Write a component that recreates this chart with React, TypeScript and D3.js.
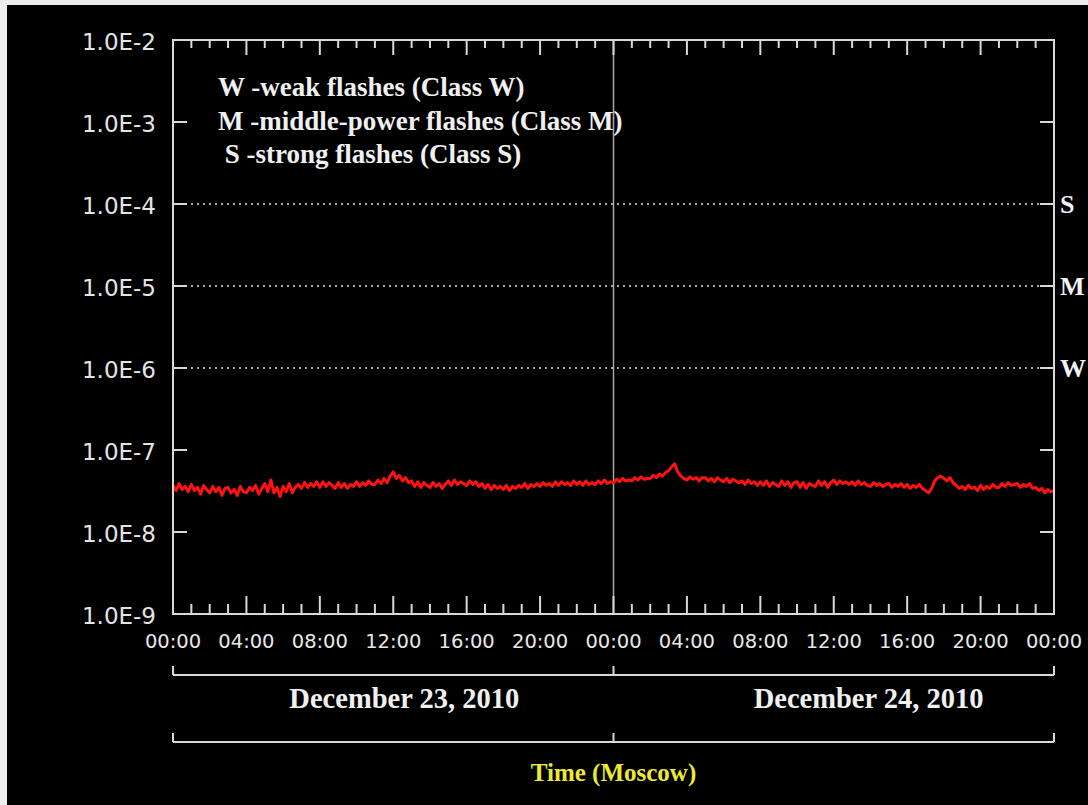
import * as d3 from "d3"

// X-ray flux, units of 1e-8 W/m^2, one value every 10 minutes, Dec 23 00:00 -> Dec 25 00:00
const FLUX_UNIT = 1e-8
const STEP_HOURS = 1 / 6
const fluxValues = [
  3.7, 3.2, 3.9, 3.3, 3.6, 3.1, 3.8, 3.2, 3.5, 2.9, 3.7, 3.3,
  3.0, 3.6, 3.1, 3.5, 2.8, 3.4, 3.5, 3.0, 3.3, 2.8, 3.6, 3.1,
  3.0, 3.5, 3.2, 3.7, 2.9, 3.4, 3.9, 3.1, 4.3, 3.0, 3.5, 2.7,
  3.6, 3.1, 3.9, 3.0, 3.5, 3.8, 3.4, 4.0, 3.5, 3.9, 3.6, 4.1,
  3.5, 4.1, 3.6, 4.0, 3.7, 3.4, 4.0, 3.5, 3.9, 3.4, 3.8, 3.6,
  4.1, 3.6, 4.0, 3.7, 4.2, 3.8, 3.8, 4.3, 3.9, 4.5, 4.0, 4.8,
  5.4, 4.5, 4.9, 4.2, 4.6, 4.0, 4.2, 3.6, 4.1, 3.5, 4.0, 3.7,
  3.5, 4.0, 3.6, 3.9, 3.4, 3.8, 4.2, 3.7, 4.3, 3.8, 4.1, 3.9,
  3.7, 4.2, 3.8, 4.1, 3.6, 3.9, 3.4, 3.8, 3.3, 3.7, 3.4, 3.6,
  3.3, 3.7, 3.2, 3.6, 3.4, 3.7, 3.5, 3.9, 3.4, 3.8, 3.6, 3.9,
  3.6, 4.0, 3.7, 3.9, 3.6, 4.1, 3.7, 4.1, 3.8, 4.0, 3.7, 4.2,
  3.8, 4.1, 3.7, 4.2, 3.8, 4.0, 3.8, 4.2, 3.9, 4.3, 3.9, 4.1,
  4.0, 4.4, 4.1, 4.5, 4.2, 4.3, 4.2, 4.6, 4.3, 4.7, 4.4, 4.5,
  4.5, 4.9, 4.6, 5.1, 4.8, 5.3, 5.6, 6.2, 6.8, 5.4, 4.8, 4.5,
  4.3, 4.7, 4.4, 4.6, 4.2, 4.6, 4.6, 4.2, 4.5, 4.1, 4.6, 4.3,
  4.1, 4.5, 4.0, 4.4, 4.2, 4.0, 4.2, 3.8, 4.3, 3.9, 4.1, 3.7,
  4.1, 3.7, 4.2, 3.6, 4.0, 3.8, 3.6, 4.2, 3.7, 4.1, 3.5, 4.0,
  4.1, 3.5, 4.0, 3.4, 3.9, 3.7, 3.6, 4.2, 3.7, 4.1, 3.5, 4.0,
  4.3, 3.8, 4.2, 3.9, 4.1, 3.8, 4.1, 3.7, 4.2, 3.8, 4.0, 3.7,
  3.6, 4.0, 3.7, 3.9, 3.6, 3.8, 3.9, 3.5, 3.8, 3.6, 3.9, 3.5,
  3.8, 3.4, 3.7, 3.5, 3.8, 3.4, 3.2, 3.0, 3.4, 4.2, 4.6, 4.8,
  4.5, 4.2, 4.6, 4.0, 3.7, 3.4, 3.6, 3.3, 3.7, 3.4, 3.5, 3.2,
  3.7, 3.3, 3.6, 3.4, 3.8, 3.5, 3.5, 3.9, 3.6, 4.0, 3.7, 3.8,
  3.9, 3.5, 3.8, 3.6, 3.9, 3.4, 3.5, 3.2, 3.4, 3.0, 3.3, 3.1,
  3.2,
]

const decadeLabels = ["1.0E-2", "1.0E-3", "1.0E-4", "1.0E-5", "1.0E-6", "1.0E-7", "1.0E-8", "1.0E-9"]
const decadeValues = [1e-2, 1e-3, 1e-4, 1e-5, 1e-6, 1e-7, 1e-8, 1e-9]
const classLines = [
  { value: 1e-4, label: "S" },
  { value: 1e-5, label: "M" },
  { value: 1e-6, label: "W" },
]
const legendLines = [
  "W -weak flashes (Class W)",
  "M -middle-power flashes (Class M)",
  " S -strong flashes (Class S)",
]
const hourLabels = ["00:00", "04:00", "08:00", "12:00", "16:00", "20:00", "00:00", "04:00", "08:00", "12:00", "16:00", "20:00", "00:00"]
// labelAt: hour on the axis where the day caption is centred
const days = [
  { label: "December 23, 2010", labelAt: 12.6 },
  { label: "December 24, 2010", labelAt: 37.9 },
]

const W = 1088
const H = 805
const left = 173
const right = 1054
const top = 40
const bottom = 614

const AXIS = "#d8d8d8"
const SERIF = "'Liberation Serif', 'Times New Roman', serif"
const SANS = "'DejaVu Sans', sans-serif"

export default function App() {
  const x = d3.scaleLinear().domain([0, 48]).range([left, right])
  const y = d3.scaleLog().domain([1e-9, 1e-2]).range([bottom, top])

  const line = d3
    .line<number>()
    .x((_, i) => x(i * STEP_HOURS))
    .y((v) => y(v * FLUX_UNIT))

  const hours = d3.range(0, 49)
  const bracketY = [675, 742]

  return (
    <div style={{ position: "absolute", left: 0, top: 0 }}>
      <svg width={W} height={H} style={{ display: "block", background: "#000" }}>
        {/* light frame of the scanned picture */}
        <rect x={0} y={0} width={W} height={5} fill="#ececec" />
        <rect x={0} y={0} width={7} height={H} fill="#ececec" />

        {/* class threshold lines */}
        {classLines.map((c) => (
          <g key={c.label}>
            <line
              x1={left}
              x2={right}
              y1={y(c.value)}
              y2={y(c.value)}
              stroke="#e0e0e0"
              strokeWidth={1.5}
              strokeDasharray="2 4"
            />
            <text
              x={right + 6}
              y={y(c.value)}
              dominantBaseline="central"
              fill="#f2f2f2"
              fontFamily={SERIF}
              fontWeight="bold"
              fontSize={26}
            >
              {c.label}
            </text>
          </g>
        ))}

        {/* day separator */}
        <line x1={x(24)} x2={x(24)} y1={top} y2={bottom} stroke="#a8a8a8" strokeWidth={1.5} />

        {/* flux */}
        <path d={line(fluxValues) ?? ""} fill="none" stroke="#ff1212" strokeWidth={3} strokeLinejoin="round" />

        {/* frame */}
        <rect x={left} y={top} width={right - left} height={bottom - top} fill="none" stroke={AXIS} strokeWidth={2} />

        {/* y ticks both sides */}
        {decadeValues.slice(1, -1).map((v) => (
          <g key={v}>
            <line x1={left} x2={left + 14} y1={y(v)} y2={y(v)} stroke={AXIS} strokeWidth={2} />
            <line x1={right - 14} x2={right} y1={y(v)} y2={y(v)} stroke={AXIS} strokeWidth={2} />
          </g>
        ))}
        {decadeValues.map((v, i) => (
          <text
            key={decadeLabels[i]}
            x={156}
            y={y(v) + 2}
            textAnchor="end"
            dominantBaseline="central"
            fill="#e4e4e4"
            fontFamily={SANS}
            fontSize={23}
          >
            {decadeLabels[i]}
          </text>
        ))}

        {/* x ticks top and bottom */}
        {hours.slice(1, -1).map((h) => {
          const major = h % 4 === 0
          return (
            <g key={h}>
              <line x1={x(h)} x2={x(h)} y1={top} y2={top + (major ? 15 : 8)} stroke={AXIS} strokeWidth={2} />
              <line x1={x(h)} x2={x(h)} y1={bottom} y2={bottom - (major ? 18 : 10)} stroke={AXIS} strokeWidth={2} />
            </g>
          )
        })}
        {hourLabels.map((t, i) => (
          <text
            key={i}
            x={x(i * 4)}
            y={641}
            textAnchor="middle"
            dominantBaseline="central"
            fill="#e8e8e8"
            fontFamily={SANS}
            fontSize={19.5}
          >
            {t}
          </text>
        ))}

        {/* day brackets */}
        {bracketY.map((by) => (
          <g key={by}>
            <line x1={left} x2={right} y1={by} y2={by} stroke={AXIS} strokeWidth={2} />
            {[0, 24, 48].map((h) => (
              <line key={h} x1={x(h)} x2={x(h)} y1={by} y2={by - 9} stroke={AXIS} strokeWidth={2} />
            ))}
          </g>
        ))}
        {days.map((d) => (
          <text
            key={d.label}
            x={x(d.labelAt)}
            y={698}
            textAnchor="middle"
            dominantBaseline="central"
            fill="#f0f0f0"
            fontFamily={SERIF}
            fontWeight="bold"
            fontSize={28.5}
          >
            {d.label}
          </text>
        ))}
        <text
          x={x(24)}
          y={772}
          textAnchor="middle"
          dominantBaseline="central"
          fill="#ecea30"
          fontFamily={SERIF}
          fontWeight="bold"
          fontSize={25}
        >
          Time (Moscow)
        </text>

        {/* legend */}
        {legendLines.map((t, i) => (
          <text
            key={i}
            x={218}
            y={[87, 121, 154][i]}
            dominantBaseline="central"
            fill="#f0f0f0"
            fontFamily={SERIF}
            fontWeight="bold"
            fontSize={27}
            style={{ whiteSpace: "pre" }}
          >
            {t}
          </text>
        ))}
      </svg>
    </div>
  )
}
